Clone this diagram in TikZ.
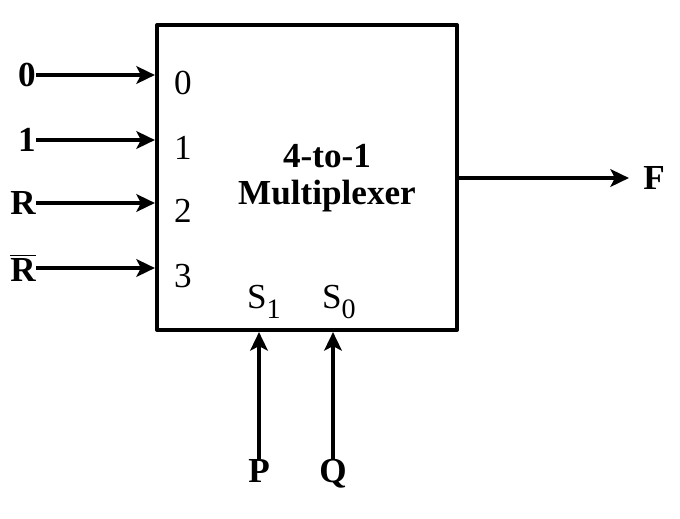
\documentclass[tikz,border=0pt]{standalone}
\usepackage{fontspec}
\setmainfont{Liberation Serif}
\usetikzlibrary{arrows.meta}
\begin{document}
\begin{tikzpicture}[x=0.02cm, y=-0.02cm, line join=round, >={Stealth[length=10.5pt,width=10pt,inset=2.5pt]}]
	\tikzset{every node/.style={inner sep=0pt, font=\fontsize{20}{20}\selectfont},
		lbl/.style={font=\fontsize{20}{20}\selectfont\bfseries},
		wire/.style={line width=2.4pt, ->}}
	\newcommand{\sel}[1]{S\raisebox{-0.6ex}{\fontsize{16}{16}\selectfont #1}}
	\useasboundingbox (0,0) rectangle (680,518);
	% the multiplexer
	\node[draw, line width=2.4pt, minimum width=6cm, minimum height=6.1cm] (mux) at (307,177.5) {};
	\node[lbl, align=center, font=\fontsize{20}{21}\selectfont\bfseries] (title) at (327,178) {4-to-1\\Multiplexer};
	% data inputs
	\foreach \y/\t [count=\i from 0] in {75/0, 140/1, 203/R, 268/$\overline{\textbf{R}}$}{
		\node[lbl, anchor=east] (in\i) at (36,\y) {\t};
		\node (p\i) at (183,\y+8) {\i};
		\draw[wire] (in\i.east) -- (in\i.east -| mux.west);
	}
	% select lines
	\node (s1) at (264,302) {\sel{1}};
	\node (s0) at (339,302) {\sel{0}};
	\node[lbl, anchor=north] (P) at (259,459) {P};
	\node[lbl, anchor=north] (Q) at (333,459) {Q};
	\draw[wire] (P.north) -- (P.north |- mux.south);
	\draw[wire] (Q.north) -- (Q.north |- mux.south);
	% output
	\node[lbl, anchor=west] (F) at (643,178) {F};
	\draw[wire] (mux.east |- F.west) -- ([xshift=-8pt]F.west);
\end{tikzpicture}
\end{document}
